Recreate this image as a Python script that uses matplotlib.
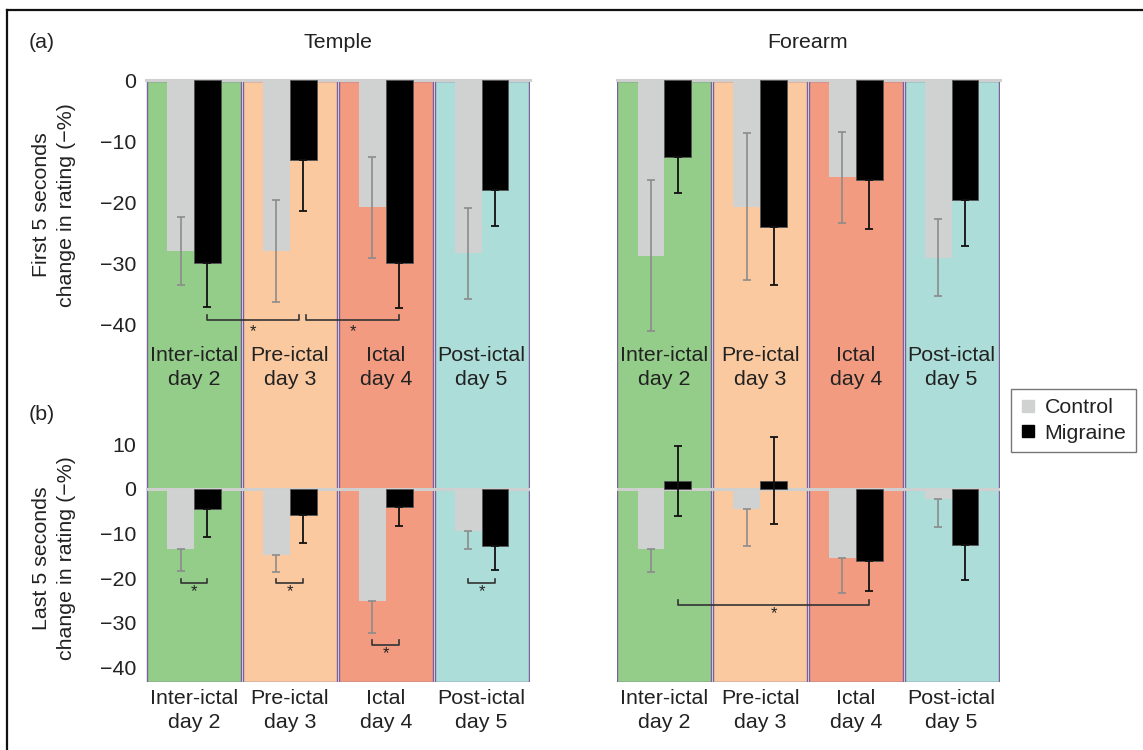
import numpy as np
import matplotlib
matplotlib.use("Agg")
import matplotlib.pyplot as plt
from matplotlib.patches import Rectangle
from matplotlib.lines import Line2D

plt.rcParams["font.family"] = ["Liberation Sans", "DejaVu Sans"]
plt.rcParams["font.size"] = 15.4
plt.rcParams["text.color"] = "#222222"
plt.rcParams["xtick.color"] = "#222222"
plt.rcParams["ytick.color"] = "#222222"

# ---- data -------------------------------------------------------------
phases = ["Inter-ictal\nday 2", "Pre-ictal\nday 3", "Ictal\nday 4", "Post-ictal\nday 5"]
sites = ["Temple", "Forearm"]
groups = ["Control", "Migraine"]

# first 5 seconds, change in rating (-%)
temple_first_control = [-27.9, -27.9, -20.8, -28.3]
temple_first_control_err = [5.6, 8.3, 8.2, 7.4]
temple_first_migraine = [-29.9, -13.0, -29.8, -18.0]
temple_first_migraine_err = [7.2, 8.4, 7.5, 5.9]
forearm_first_control = [-28.7, -20.7, -15.9, -29.0]
forearm_first_control_err = [12.3, 12.0, 7.4, 6.3]
forearm_first_migraine = [-12.5, -24.0, -16.3, -19.6]
forearm_first_migraine_err = [5.9, 9.4, 8.0, 7.5]

# last 5 seconds, change in rating (-%)
temple_last_control = [-13.6, -14.8, -25.1, -9.4]
temple_last_control_err = [4.9, 3.9, 7.2, 4.0]
temple_last_migraine = [-4.5, -5.8, -4.2, -12.8]
temple_last_migraine_err = [6.3, 6.3, 4.1, 5.4]
forearm_last_control = [-13.6, -4.5, -15.5, -2.4]
forearm_last_control_err = [5.1, 8.4, 7.8, 6.2]
forearm_last_migraine = [1.7, 1.8, -16.2, -12.7]
forearm_last_migraine_err = [7.9, 9.8, 6.7, 7.7]

# significance brackets: (x0, x1, y)
temple_first_sig = [(0.14, 1.10, -39.2), (1.17, 2.14, -39.2)]
temple_last_sig = [(-0.14, 0.14, -21.1), (0.86, 1.14, -21.1),
                   (1.86, 2.14, -34.9), (2.86, 3.14, -21.1)]
forearm_last_sig = [(0.14, 2.14, -26.0)]

# ---- style ------------------------------------------------------------
phase_colors = ["#93CD89", "#FBC99F", "#F29B81", "#ADDDD8"]
column_edge = "#7A619D"
control_color = "#D0D2D2"
migraine_color = "#000000"
control_err_color = "#8C8C8C"
zero_line_color = "#CFCFCF"
bar_w = 0.28
off = 0.14

W, H = 1143, 750
fig = plt.figure(figsize=(W / 100, H / 100), dpi=100)


def rect(x0, y0, x1, y1):
    return [x0 / W, 1 - y1 / H, (x1 - x0) / W, (y1 - y0) / H]


# outer frame (top and left rules)
fig.add_artist(Line2D([7 / W, 1], [1 - 10 / H, 1 - 10 / H], transform=fig.transFigure,
                      color="#111111", lw=1.6))
fig.add_artist(Line2D([7 / W, 7 / W], [1 - 10 / H, 0], transform=fig.transFigure,
                      color="#111111", lw=1.6))

TOP_Y0, TOP_Y1 = 80, 400       # pixel extent of upper panels
BOT_Y0, BOT_Y1 = 432, 682      # pixel extent of lower panels
top_scale = 6.125              # pixels per unit, upper panels
bot_scale = 4.47               # pixels per unit, lower panels
top_ylim = (-(TOP_Y1 - 80) / top_scale, 0)
bot_ylim = (-(BOT_Y1 - 488.7) / bot_scale, (488.7 - BOT_Y0) / bot_scale)


def draw_bars(ax, ctrl, ctrl_err, mig, mig_err, two_sided_ctrl):
    x = np.arange(len(ctrl))
    ctrl = np.asarray(ctrl)
    mig = np.asarray(mig)
    ctrl_err = np.asarray(ctrl_err)
    mig_err = np.asarray(mig_err)
    ax.bar(x - off, ctrl, bar_w, color=control_color, zorder=3)
    ax.bar(x + off, mig, bar_w, color=migraine_color, edgecolor="#555555",
           linewidth=0.6, zorder=3)
    up_c = ctrl_err if two_sided_ctrl else np.zeros_like(ctrl_err)
    ax.errorbar(x - off, ctrl, yerr=[ctrl_err, up_c], fmt="none",
                ecolor=control_err_color, elinewidth=1.2, capsize=3, capthick=1.2,
                zorder=4)
    up_m = np.where(mig > 0, mig_err, 0)
    ax.errorbar(x + off, mig, yerr=[mig_err, up_m], fmt="none",
                ecolor="#111111", elinewidth=1.3, capsize=3, capthick=1.3, zorder=4)


def draw_sig(ax, sigs, tick, star_dy):
    for x0, x1, y in sigs:
        ax.plot([x0, x0, x1, x1], [y + tick, y, y, y + tick], color="#333333",
                lw=1.2, zorder=5, clip_on=False)
        ax.text((x0 + x1) / 2, y - star_dy, "*", ha="center", va="center",
                fontsize=12, zorder=5, clip_on=False)


panels = [
    (146, 529.5, "Temple",
     (temple_first_control, temple_first_control_err, temple_first_migraine, temple_first_migraine_err),
     (temple_last_control, temple_last_control_err, temple_last_migraine, temple_last_migraine_err),
     temple_first_sig, temple_last_sig, True),
    (616.5, 999.5, "Forearm",
     (forearm_first_control, forearm_first_control_err, forearm_first_migraine, forearm_first_migraine_err),
     (forearm_last_control, forearm_last_control_err, forearm_last_migraine, forearm_last_migraine_err),
     [], forearm_last_sig, False),
]

for x0, x1, site, first, last, sig_top, sig_bot, show_y in panels:
    # coloured phase columns behind both panels
    bg = fig.add_axes(rect(x0, 80.5, x1, 682))
    bg.set_xlim(-0.5, 3.5)
    bg.set_ylim(0, 1)
    bg.axis("off")
    for i, c in enumerate(phase_colors):
        bg.add_patch(Rectangle((i - 0.49, 0), 0.98, 1, facecolor=c,
                               edgecolor=column_edge, linewidth=1.0))

    # upper panel: first 5 seconds
    ax_t = fig.add_axes(rect(x0, TOP_Y0, x1, TOP_Y1))
    ax_t.patch.set_visible(False)
    ax_t.set_xlim(-0.5, 3.5)
    ax_t.set_ylim(*top_ylim)
    ax_t.axhline(0, color=zero_line_color, lw=2.2, zorder=2, clip_on=False)
    draw_bars(ax_t, *first, two_sided_ctrl=True)
    draw_sig(ax_t, sig_top, tick=0.8, star_dy=1.9)
    for i, lab in enumerate(phases):
        ax_t.text(i, -(367.5 - 80) / top_scale, lab, ha="center", va="center",
                  linespacing=1.3, zorder=5)
    ax_t.set_xticks([])
    ax_t.set_yticks([0, -10, -20, -30, -40])
    if not show_y:
        ax_t.set_yticklabels([])
    ax_t.tick_params(axis="y", length=0, pad=7)
    for s in ax_t.spines.values():
        s.set_visible(False)
    ax_t.text(0.5, 1 + 37 / (TOP_Y1 - TOP_Y0), site, transform=ax_t.transAxes,
              ha="center", va="center")

    # lower panel: last 5 seconds
    ax_b = fig.add_axes(rect(x0, BOT_Y0, x1, BOT_Y1))
    ax_b.patch.set_visible(False)
    ax_b.set_xlim(-0.5, 3.5)
    ax_b.set_ylim(*bot_ylim)
    ax_b.axhline(0, color=zero_line_color, lw=2.2, zorder=2)
    draw_bars(ax_b, *last, two_sided_ctrl=False)
    draw_sig(ax_b, sig_bot, tick=1.0, star_dy=1.9)
    ax_b.set_xticks(range(4))
    ax_b.set_xticklabels(phases, linespacing=1.33)
    ax_b.set_yticks([10, 0, -10, -20, -30, -40])
    if not show_y:
        ax_b.set_yticklabels([])
    ax_b.tick_params(axis="y", length=0, pad=7)
    ax_b.tick_params(axis="x", length=0, pad=5)
    for s in ax_b.spines.values():
        s.set_visible(False)

    if show_y:
        fig.text(54 / W, 1 - 205 / H, "First 5 seconds\nchange in rating (\u2212%)",
                 rotation=90, ha="center", va="center", linespacing=1.45)
        fig.text(54 / W, 1 - 558 / H, "Last 5 seconds\nchange in rating (\u2212%)",
                 rotation=90, ha="center", va="center", linespacing=1.45)

fig.text(29 / W, 1 - 43 / H, "(a)", ha="left", va="center")
fig.text(29 / W, 1 - 415 / H, "(b)", ha="left", va="center")

handles = [Line2D([], [], marker="s", linestyle="none", markersize=9,
                  markerfacecolor=control_color, markeredgecolor=control_color),
           Line2D([], [], marker="s", linestyle="none", markersize=9,
                  markerfacecolor=migraine_color, markeredgecolor=migraine_color)]
leg = fig.legend(handles, groups, loc="upper left",
                 bbox_to_anchor=(1010.5 / W, 1 - 388.5 / H), frameon=True,
                 fancybox=False, edgecolor="#777777", framealpha=1,
                 borderaxespad=0, borderpad=0.45, labelspacing=0.3,
                 handlelength=0.7, handletextpad=0.45, fontsize=15.4)
leg.get_frame().set_linewidth(1.0)

fig.savefig("out.png", dpi=100)
